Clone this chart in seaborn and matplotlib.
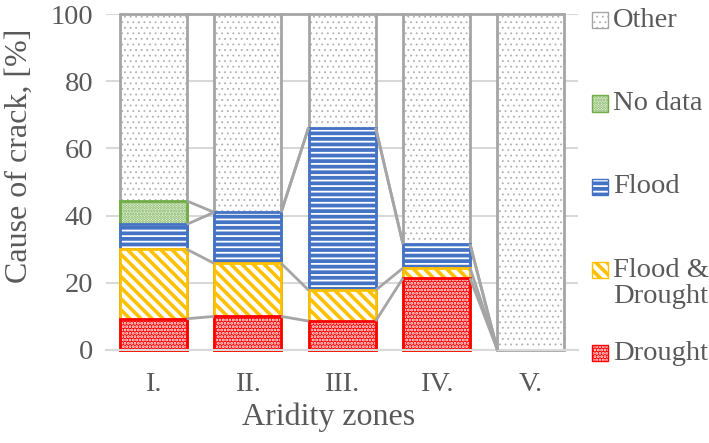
import numpy as np
import pandas as pd
import matplotlib
matplotlib.use('Agg')
import matplotlib.pyplot as plt
from matplotlib.patches import Rectangle
import seaborn as sns

# ─── Data ─────────────────────────────────────────────────────────────────────
ZONES         = ['I.', 'II.', 'III.', 'IV.', 'V.']
DROUGHT       = [9.3, 10.0, 8.6, 21.4, 0.0]
FLOOD_DROUGHT = [20.7, 15.8, 9.2, 3.0, 0.0]
FLOOD         = [7.4, 15.2, 48.4, 7.1, 0.0]
NO_DATA       = [7.0, 0.0, 0.0, 0.0, 0.0]
OTHER         = [55.6, 59.0, 33.8, 68.5, 100.0]

SERIES = ['Drought', 'Flood & Drought', 'Flood', 'No data', 'Other']
VALUES = [DROUGHT, FLOOD_DROUGHT, FLOOD, NO_DATA, OTHER]

# ─── Style ────────────────────────────────────────────────────────────────────
# (face, hatch colour, hatch, hatch lw, border colour)
STYLE = {
    'Drought':         ('#FF0000', 'white',   '.....',   1.4, '#FF0000'),
    'Flood & Drought': ('white',   '#FFC000', '\\\\\\',  2.6, '#FFC000'),
    'Flood':           ('#4472C4', 'white',   '---',     1.3, '#4472C4'),
    'No data':         ('white',   '#70AD47', '......',  1.5, '#70AD47'),
    'Other':           ('white',   '#B0B0B0', '...',     0.6, '#A5A5A5'),
}
TEXT_COLOR = '#595959'
GRID_COLOR = '#D9D9D9'
LINE_COLOR = '#A5A5A5'
BAR_WIDTH  = 0.71
TICK_SIZE  = 20.5
LABEL_SIZE = 23

sns.set_theme(style='white')
plt.rcParams['font.family'] = ['Liberation Serif', 'DejaVu Serif']
plt.rcParams['text.color'] = TEXT_COLOR
plt.rcParams['axes.labelcolor'] = TEXT_COLOR
plt.rcParams['xtick.color'] = TEXT_COLOR
plt.rcParams['ytick.color'] = TEXT_COLOR


def set_hatch_lw(patches, lw):
    for p in patches:
        if hasattr(p, 'set_hatch_linewidth'):
            p.set_hatch_linewidth(lw)


fig = plt.figure(figsize=(7.09, 4.43), dpi=100)
ax = fig.add_axes([0.1495, 0.21, 0.666, 0.758])

cum = np.cumsum(np.array(VALUES), axis=0)

# draw cumulative totals from the top series down so lower layers sit on top
for i in range(len(SERIES) - 1, -1, -1):
    name = SERIES[i]
    face, hcol, hatch, hlw, edge = STYLE[name]
    heights = np.where(np.array(VALUES[i]) > 0, cum[i], np.nan)
    df = pd.DataFrame({'zone': ZONES, 'value': heights})
    n0 = len(ax.patches)
    with plt.rc_context({'hatch.linewidth': hlw}):
        sns.barplot(data=df, x='zone', y='value', ax=ax, color=face,
                    saturation=1, width=BAR_WIDTH, hatch=hatch,
                    edgecolor=hcol, linewidth=0, errorbar=None, zorder=2)
    set_hatch_lw(ax.patches[n0:], hlw)
    sns.barplot(data=df, x='zone', y='value', ax=ax, fill=False,
                width=BAR_WIDTH, edgecolor=edge, linewidth=2,
                errorbar=None, zorder=2)
    for p in ax.patches[n0:]:
        p.set_clip_on(False)

# series lines between bars
x = np.arange(len(ZONES))
for i in range(len(SERIES)):
    for j in range(len(ZONES) - 1):
        ax.plot([x[j] + BAR_WIDTH / 2, x[j + 1] - BAR_WIDTH / 2],
                [cum[i][j], cum[i][j + 1]], color=LINE_COLOR, lw=2,
                zorder=3, clip_on=False, solid_capstyle='butt')

ax.set_xlim(-0.5, len(ZONES) - 0.5)
ax.set_ylim(0, 100)
ax.set_yticks(range(0, 101, 20))
ax.yaxis.grid(True, color=GRID_COLOR, lw=1.5, zorder=0)
ax.set_axisbelow(True)
for s in ['top', 'right', 'left']:
    ax.spines[s].set_visible(False)
ax.spines['bottom'].set_color(GRID_COLOR)
ax.spines['bottom'].set_linewidth(1.5)
ax.tick_params(axis='both', length=0, labelsize=TICK_SIZE)
ax.tick_params(axis='x', pad=16)
ax.tick_params(axis='y', pad=9)

ax.set_xlabel('Aridity zones', fontsize=LABEL_SIZE)
ax.xaxis.label.set_va('center')
ax.xaxis.set_label_coords(0.472, -0.2)
ax.set_ylabel('Cause of crack, [%]', fontsize=LABEL_SIZE)
ax.yaxis.label.set_va('center')
ax.yaxis.set_label_coords(-0.183, 0.577)

# legend, Excel style: evenly spaced slots down the right side
LEGEND_ORDER = ['Other', 'No data', 'Flood', 'Flood & Drought', 'Drought']
LEGEND_TEXT  = ['Other', 'No data', 'Flood', 'Flood &\nDrought', 'Drought']
top_y, pitch = 0.982, 0.248
for k, (name, txt) in enumerate(zip(LEGEND_ORDER, LEGEND_TEXT)):
    face, hcol, hatch, hlw, edge = STYLE[name]
    yc = top_y - k * pitch
    with plt.rc_context({'hatch.linewidth': hlw}):
        sq = Rectangle((1.030, yc - 0.024), 0.034, 0.048,
                       transform=ax.transAxes, facecolor=face,
                       edgecolor=hcol, hatch=hatch, lw=0, clip_on=False)
    set_hatch_lw([sq], hlw)
    ax.add_patch(sq)
    ax.add_patch(Rectangle((1.030, yc - 0.024), 0.034, 0.048,
                           transform=ax.transAxes, fill=False,
                           edgecolor=edge, lw=1, clip_on=False))
    for m, line in enumerate(txt.split('\n')):
        ax.text(1.074, yc - m * 0.08, line, transform=ax.transAxes,
                fontsize=TICK_SIZE, va='center', ha='left')

fig.savefig('out.png', dpi=100)
